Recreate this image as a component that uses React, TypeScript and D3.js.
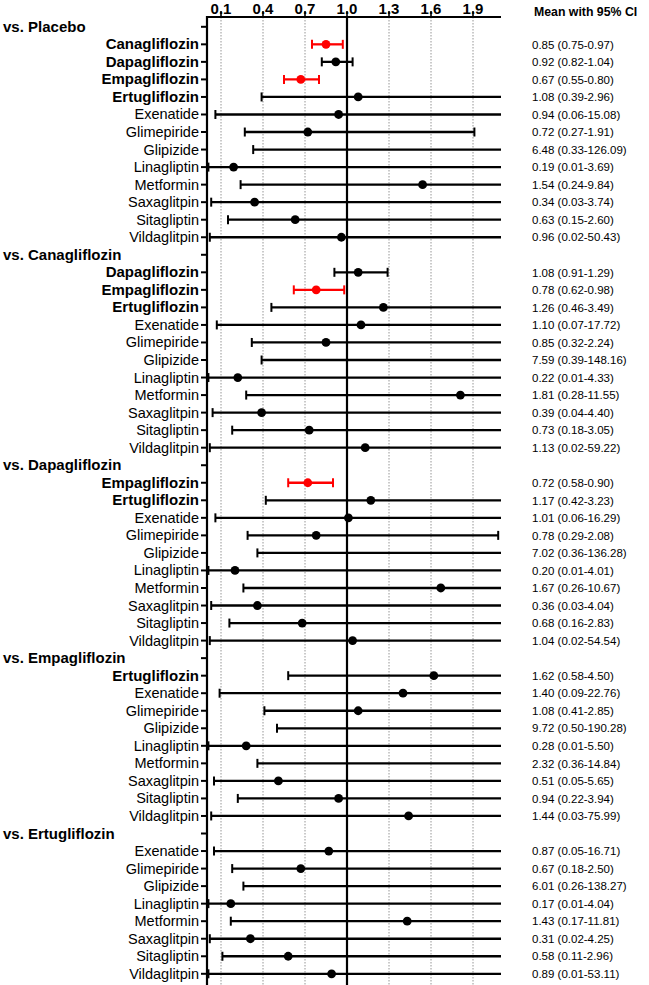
import React from "react";
import * as d3 from "d3";

// ---- data ----
const groupNames = [
  "vs. Placebo",
  "vs. Canagliflozin",
  "vs. Dapagliflozin",
  "vs. Empagliflozin",
  "vs. Ertugliflozin",
];

const groupDrugs: string[][] = [
  ["Canagliflozin", "Dapagliflozin", "Empagliflozin", "Ertugliflozin", "Exenatide", "Glimepiride", "Glipizide", "Linagliptin", "Metformin", "Saxaglitpin", "Sitagliptin", "Vildaglitpin"],
  ["Dapagliflozin", "Empagliflozin", "Ertugliflozin", "Exenatide", "Glimepiride", "Glipizide", "Linagliptin", "Metformin", "Saxaglitpin", "Sitagliptin", "Vildaglitpin"],
  ["Empagliflozin", "Ertugliflozin", "Exenatide", "Glimepiride", "Glipizide", "Linagliptin", "Metformin", "Saxaglitpin", "Sitagliptin", "Vildaglitpin"],
  ["Ertugliflozin", "Exenatide", "Glimepiride", "Glipizide", "Linagliptin", "Metformin", "Saxaglitpin", "Sitagliptin", "Vildaglitpin"],
  ["Exenatide", "Glimepiride", "Glipizide", "Linagliptin", "Metformin", "Saxaglitpin", "Sitagliptin", "Vildaglitpin"],
];

const groupMeans: number[][] = [
  [0.85, 0.92, 0.67, 1.08, 0.94, 0.72, 6.48, 0.19, 1.54, 0.34, 0.63, 0.96],
  [1.08, 0.78, 1.26, 1.10, 0.85, 7.59, 0.22, 1.81, 0.39, 0.73, 1.13],
  [0.72, 1.17, 1.01, 0.78, 7.02, 0.20, 1.67, 0.36, 0.68, 1.04],
  [1.62, 1.40, 1.08, 9.72, 0.28, 2.32, 0.51, 0.94, 1.44],
  [0.87, 0.67, 6.01, 0.17, 1.43, 0.31, 0.58, 0.89],
];

const groupLower: number[][] = [
  [0.75, 0.82, 0.55, 0.39, 0.06, 0.27, 0.33, 0.01, 0.24, 0.03, 0.15, 0.02],
  [0.91, 0.62, 0.46, 0.07, 0.32, 0.39, 0.01, 0.28, 0.04, 0.18, 0.02],
  [0.58, 0.42, 0.06, 0.29, 0.36, 0.01, 0.26, 0.03, 0.16, 0.02],
  [0.58, 0.09, 0.41, 0.50, 0.01, 0.36, 0.05, 0.22, 0.03],
  [0.05, 0.18, 0.26, 0.01, 0.17, 0.02, 0.11, 0.01],
];

const groupUpper: number[][] = [
  [0.97, 1.04, 0.80, 2.96, 15.08, 1.91, 126.09, 3.69, 9.84, 3.74, 2.60, 50.43],
  [1.29, 0.98, 3.49, 17.72, 2.24, 148.16, 4.33, 11.55, 4.40, 3.05, 59.22],
  [0.90, 3.23, 16.29, 2.08, 136.28, 4.01, 10.67, 4.04, 2.83, 54.54],
  [4.50, 22.76, 2.85, 190.28, 5.50, 14.84, 5.65, 3.94, 75.99],
  [16.71, 2.50, 138.27, 4.04, 11.81, 4.25, 2.96, 53.11],
];

// significant comparisons drawn in red: [group index, drug]
const significant: [number, string][] = [
  [0, "Canagliflozin"],
  [0, "Empagliflozin"],
  [1, "Empagliflozin"],
  [2, "Empagliflozin"],
];

const boldDrugs = ["Canagliflozin", "Dapagliflozin", "Empagliflozin", "Ertugliflozin"];

const xTicks = [0.1, 0.4, 0.7, 1.0, 1.3, 1.6, 1.9];
const xDomain = [0, 2.1];
const columnTitle = "Mean with 95% CI";

// ---- layout ----
const W = 649;
const H = 985;
const plotLeft = 207;
const plotRight = 501;
const axisY = 17;
const firstRowY = 26.8;
const lastRowY = 973.8;

type Row =
  | { kind: "header"; label: string; key: string }
  | { kind: "item"; label: string; key: string; mean: number; lo: number; hi: number; red: boolean };

const rows: Row[] = [];
groupNames.forEach((g, gi) => {
  rows.push({ kind: "header", label: g, key: `h${gi}` });
  groupDrugs[gi].forEach((d, di) => {
    rows.push({
      kind: "item",
      label: d,
      key: `r${gi}-${di}`,
      mean: groupMeans[gi][di],
      lo: groupLower[gi][di],
      hi: groupUpper[gi][di],
      red: significant.some(([sg, sd]) => sg === gi && sd === d),
    });
  });
});

const FONT = "'Liberation Sans', Arial, sans-serif";

export default function App() {
  const x = d3.scaleLinear().domain(xDomain).range([plotLeft, plotRight]);
  const y = d3
    .scalePoint<string>()
    .domain(rows.map((r) => r.key))
    .range([firstRowY, lastRowY]);

  const [d0, d1] = xDomain;
  const capH = 4.5;

  return (
    <svg
      width={W}
      height={H}
      style={{ position: "absolute", left: 0, top: 0, background: "#fff" }}
      fontFamily={FONT}
    >
      {/* grid lines */}
      {xTicks.map((t) =>
        t === 1.0 ? null : (
          <line
            key={`g${t}`}
            x1={x(t)}
            x2={x(t)}
            y1={axisY}
            y2={H}
            stroke="#8a8a8a"
            strokeWidth={0.9}
            strokeDasharray="1.5,1.5"
          />
        )
      )}
      {/* reference line at 1 */}
      <line x1={x(1)} x2={x(1)} y1={axisY} y2={H} stroke="#000" strokeWidth={2.2} />

      {/* top axis */}
      <line x1={plotLeft - 1} x2={plotRight} y1={axisY} y2={axisY} stroke="#000" strokeWidth={2.2} />
      {xTicks.map((t) => (
        <g key={`t${t}`}>
          <text
            x={x(t)}
            y={14}
            textAnchor="middle"
            fontSize={15}
            fontWeight="bold"
          >
            {t.toFixed(1)}
          </text>
          <line x1={x(t)} x2={x(t)} y1={11} y2={axisY} stroke="#000" strokeWidth={1.6} />
        </g>
      ))}

      {/* left axis */}
      <line x1={plotLeft} x2={plotLeft} y1={axisY - 1} y2={H} stroke="#000" strokeWidth={2.2} />

      {/* column title */}
      <text x={534} y={16} fontSize={12.3} fontWeight="bold">
        {columnTitle}
      </text>

      {rows.map((r) => {
        const yy = y(r.key) as number;
        if (r.kind === "header") {
          return (
            <g key={r.key}>
              <line x1={plotLeft - 6} x2={plotLeft} y1={yy} y2={yy} stroke="#000" strokeWidth={2} />
              <text x={3} y={yy + 5} fontSize={15} fontWeight="bold">
                {r.label}
              </text>
            </g>
          );
        }
        const color = r.red ? "#ff0000" : "#000";
        const lo = Math.max(r.lo, d0);
        const hi = Math.min(r.hi, d1);
        const isBold = boldDrugs.includes(r.label);
        return (
          <g key={r.key}>
            <line x1={plotLeft - 6} x2={plotLeft} y1={yy} y2={yy} stroke="#000" strokeWidth={2} />
            <text
              x={199}
              y={yy + 5}
              textAnchor="end"
              fontSize={isBold ? 15 : 14.5}
              fontWeight={isBold ? "bold" : "normal"}
            >
              {r.label}
            </text>
            <line x1={x(lo)} x2={x(hi)} y1={yy} y2={yy} stroke={color} strokeWidth={2.3} />
            {r.lo >= d0 && (
              <line x1={x(r.lo)} x2={x(r.lo)} y1={yy - capH} y2={yy + capH} stroke={color} strokeWidth={2} />
            )}
            {r.hi <= d1 && (
              <line x1={x(r.hi)} x2={x(r.hi)} y1={yy - capH} y2={yy + capH} stroke={color} strokeWidth={2} />
            )}
            {r.mean <= d1 && <circle cx={x(r.mean)} cy={yy} r={4.4} fill={color} />}
            <text x={532} y={yy + 4.2} fontSize={11.5}>
              {`${r.mean.toFixed(2)} (${r.lo.toFixed(2)}-${r.hi.toFixed(2)})`}
            </text>
          </g>
        );
      })}
    </svg>
  );
}
